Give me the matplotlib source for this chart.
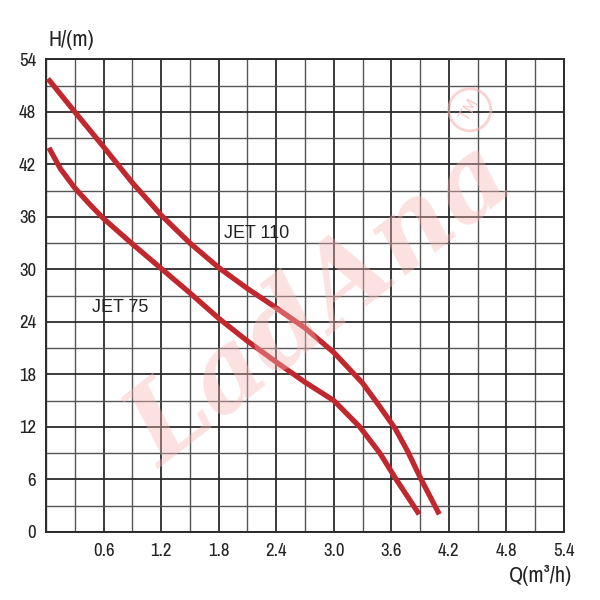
import numpy as np
import matplotlib
matplotlib.use("Agg")
import matplotlib.pyplot as plt
from matplotlib.patches import Circle

# pump curves
jet110_q = [0.02, 0.3, 0.6, 0.9, 1.2, 1.5, 1.8, 2.1, 2.4, 2.7, 3.0, 3.3, 3.48, 3.64, 3.77, 3.91, 4.1]
jet110_h = [51.8, 48.0, 44.0, 39.9, 36.2, 33.0, 30.2, 27.8, 25.6, 23.3, 20.5, 17.0, 14.3, 11.8, 9.2, 6.0, 2.0]

jet75_q = [0.03, 0.15, 0.3, 0.45, 0.6, 0.9, 1.2, 1.5, 1.8, 2.1, 2.4, 2.7, 3.0, 3.27, 3.48, 3.65, 3.83, 3.89]
jet75_h = [43.9, 41.5, 39.3, 37.5, 35.8, 32.9, 30.1, 27.3, 24.4, 21.8, 19.4, 17.1, 15.0, 12.0, 9.0, 6.0, 3.0, 2.0]

x_ticks = [0.6, 1.2, 1.8, 2.4, 3.0, 3.6, 4.2, 4.8, 5.4]
x_labels = ["0.6", "1.2", "1.8", "2.4", "3.0", "3.6", "4.2", "4.8", "5.4"]
y_ticks = [0, 6, 12, 18, 24, 30, 36, 42, 48, 54]

narrow = ["Archivo Narrow", "Liberation Sans", "DejaVu Sans"]
curve_color = "#c1272d"

fig = plt.figure(figsize=(6, 6), dpi=100)
ax = fig.add_axes([0.0767, 0.1137, 0.8633, 0.7873])
ax.set_xlim(0, 5.4)
ax.set_ylim(0, 54)

ax.set_xticks(x_ticks)
ax.set_xticklabels(x_labels)
ax.set_yticks(y_ticks)
ax.set_xticks(np.arange(0, 5.41, 0.3), minor=True)
ax.set_yticks(np.arange(0, 54.1, 3), minor=True)
ax.tick_params(which="both", length=0)
ax.tick_params(axis="x", pad=8)
ax.tick_params(axis="y", pad=7)
for lab in ax.get_xticklabels() + ax.get_yticklabels():
    lab.set_family(narrow)
    lab.set_fontsize(13.5)
    lab.set_color("#222222")

ax.grid(which="major", color="#2b2b2b", lw=1.3)
ax.grid(which="minor", color="#555555", lw=1.0)
ax.set_axisbelow(True)
for s in ax.spines.values():
    s.set_color("#2b2b2b")
    s.set_linewidth(1.4)

ax.plot(jet110_q, jet110_h, color=curve_color, lw=3.8, solid_capstyle="butt", solid_joinstyle="round", zorder=3)
ax.plot(jet75_q, jet75_h, color=curve_color, lw=3.8, solid_capstyle="butt", solid_joinstyle="round", zorder=3)

ax.text(1.86, 34.1, "JET 110", family="Liberation Sans", fontsize=13, color="#222222",
        ha="left", va="center", zorder=4)
ax.text(0.476, 25.6, "JET 75", family="Liberation Sans", fontsize=13, color="#222222",
        ha="left", va="center", zorder=4)

fig.text(0.08, 0.933, "H/(m)", family=narrow, fontsize=16, color="#222222", ha="left", va="center")
fig.text(0.953, 0.04, "Q(m³/h)", family=narrow, fontsize=16, color="#222222", ha="right", va="center")

# watermark
fig.text(0.535, 0.49, "LadAna", family="DejaVu Serif", style="italic", fontweight="bold",
         fontsize=78, color="#f9b5b5", alpha=0.4, rotation=38, ha="center", va="center", zorder=10)
fig.patches.append(Circle((0.783, 0.817), 0.035, transform=fig.transFigure, fill=False,
                          ec="#f9b5b5", lw=2, alpha=0.6, zorder=10))
fig.text(0.783, 0.817, "TM", family="DejaVu Sans", fontsize=11, color="#f9b5b5", alpha=0.7,
         rotation=60, ha="center", va="center", zorder=10)

fig.savefig("out.png", dpi=100)
